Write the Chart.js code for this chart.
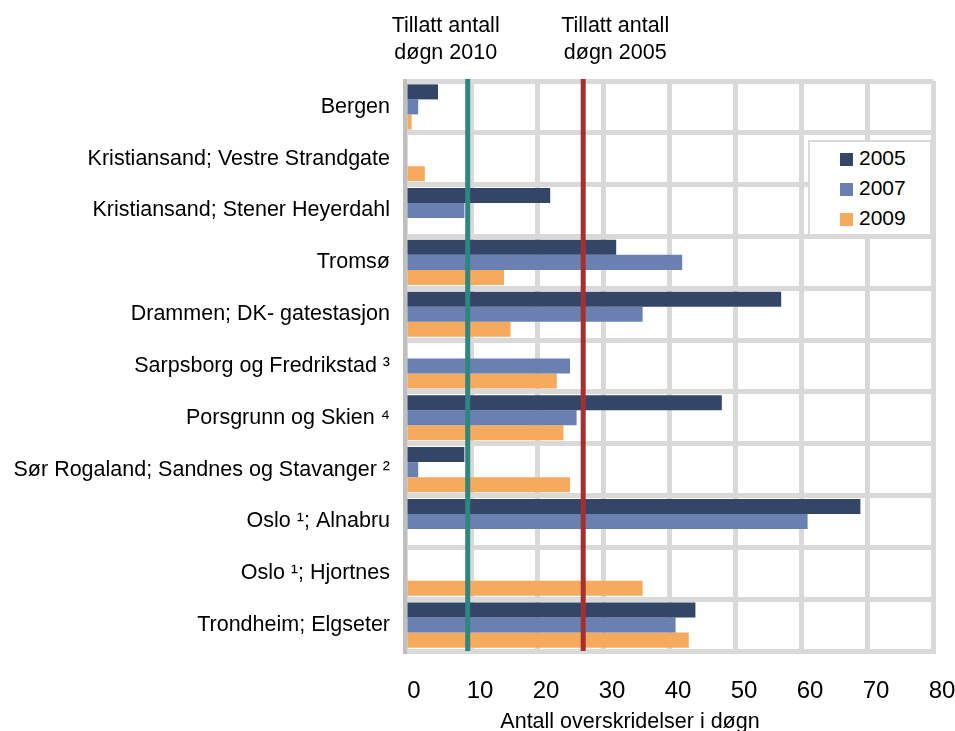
<!DOCTYPE html>
<html>
<head>
<meta charset="utf-8">
<script src="https://cdn.jsdelivr.net/npm/chart.js@4"></script>
<style>
  body { margin: 0; background: #fff; }
  #wrap { position: relative; width: 955px; height: 731px; }
  #legend {
    position: absolute; left: 808px; top: 140px; width: 124px; height: 96px;
    background: #fff; border: 2px solid #d9d9d9; box-sizing: border-box;
    font-family: "Liberation Sans", Arial, sans-serif; font-size: 21px; color: #000;
  }
  #legend .item { position: absolute; left: 30px; height: 24px; line-height: 24px; }
  #legend .box { display: inline-block; width: 13px; height: 13px; margin-right: 6px; vertical-align: -1px; }
</style>
</head>
<body>
<div id="wrap">
  <canvas id="barChart" width="955" height="731"></canvas>
  <div id="legend"></div>
</div>
<script>
const categories = [
  "Bergen",
  "Kristiansand; Vestre Strandgate",
  "Kristiansand; Stener Heyerdahl",
  "Tromsø",
  "Drammen; DK- gatestasjon",
  "Sarpsborg og Fredrikstad ³",
  "Porsgrunn og Skien ⁴",
  "Sør Rogaland; Sandnes og Stavanger ²",
  "Oslo ¹; Alnabru",
  "Oslo ¹; Hjortnes",
  "Trondheim; Elgseter",
];
const years = ["2005", "2007", "2009"];
const values2005 = [5, null, 22, 32, 57, null, 48, 9, 69, null, 44];
const values2007 = [2, null, 9, 42, 36, 25, 26, 2, 61, null, 41];
const values2009 = [1, 3, null, 15, 16, 23, 24, 25, null, 36, 43];
const xTicks = [0, 10, 20, 30, 40, 50, 60, 70, 80];
const limit2010 = 9.5;
const limit2005 = 27;
const axisTitle = "Antall overskridelser i døgn";

const colors = ["#344668", "#6a80b0", "#f6aa5e"];
const font = "Liberation Sans, Arial, sans-serif";

// vertical limit lines + their labels + x axis title
const limitLines = {
  id: "limitLines",
  afterDatasetsDraw(chart) {
    const { ctx, chartArea, scales } = chart;
    const lines = [
      { v: limit2010, color: "#2e867f" },
      { v: limit2005, color: "#a53030" },
    ];
    ctx.save();
    lines.forEach((l) => {
      const x = scales.x.getPixelForValue(l.v);
      ctx.strokeStyle = l.color;
      ctx.lineWidth = 5;
      ctx.beginPath();
      ctx.moveTo(x, chartArea.top - 2);
      ctx.lineTo(x, chartArea.bottom);
      ctx.stroke();
    });
    ctx.restore();
  },
  afterDraw(chart) {
    const { ctx, scales } = chart;
    ctx.save();
    ctx.fillStyle = "#000";
    ctx.font = "21.5px " + font;
    ctx.textAlign = "center";
    ctx.textBaseline = "alphabetic";
    const x1 = scales.x.getPixelForValue(limit2010) - 22;
    const x2 = scales.x.getPixelForValue(limit2005) + 32;
    ctx.fillText("Tillatt antall", x1, 32);
    ctx.fillText("døgn 2010", x1, 59);
    ctx.fillText("Tillatt antall", x2, 32);
    ctx.fillText("døgn 2005", x2, 59);
    ctx.font = "21.5px " + font;
    ctx.fillText(axisTitle, 630, 728);
    ctx.restore();
  },
};

const series = [values2005, values2007, values2009];

const chart = new Chart(document.getElementById("barChart").getContext("2d"), {
  type: "bar",
  data: {
    labels: categories,
    datasets: years.map((y, i) => ({
      label: y,
      data: series[i],
      backgroundColor: colors[i],
      borderWidth: 0,
      categoryPercentage: 0.87,
      barPercentage: 1.0,
    })),
  },
  options: {
    indexAxis: "y",
    responsive: false,
    animation: false,
    layout: { padding: { top: 81, right: 22, left: 0, bottom: 0 } },
    plugins: { legend: { display: false }, tooltip: { enabled: false } },
    scales: {
      x: {
        min: 0,
        max: 80,
        afterBuildTicks: (scale) => { scale.ticks = xTicks.map((v) => ({ value: v })); },
        afterFit: (scale) => {
          scale.height = 80;
          scale.paddingLeft = 0;
          scale.paddingRight = 0;
        },
        grid: { color: "#d9d9d9", lineWidth: 5, drawTicks: false },
        border: { color: "#d9d9d9", width: 5 },
        ticks: { color: "#000", font: { family: font, size: 24 }, padding: 26, labelOffset: 9 },
      },
      y: {
        afterFit: (scale) => { scale.width = 405; },
        grid: { color: "#d9d9d9", lineWidth: 5, drawTicks: false, offset: true },
        border: { color: "#bfbfbf", width: 4 },
        ticks: { color: "#000", font: { family: font, size: 21.5 }, padding: 15, autoSkip: false },
      },
    },
  },
  plugins: [limitLines],
});

// legend in the upper right of the plot
const legend = document.getElementById("legend");
chart.data.datasets.forEach((ds, i) => {
  const item = document.createElement("div");
  item.className = "item";
  item.style.top = (4 + i * 30) + "px";
  item.innerHTML = '<span class="box" style="background:' + ds.backgroundColor + '"></span>' + ds.label;
  legend.appendChild(item);
});
</script>
</body>
</html>
